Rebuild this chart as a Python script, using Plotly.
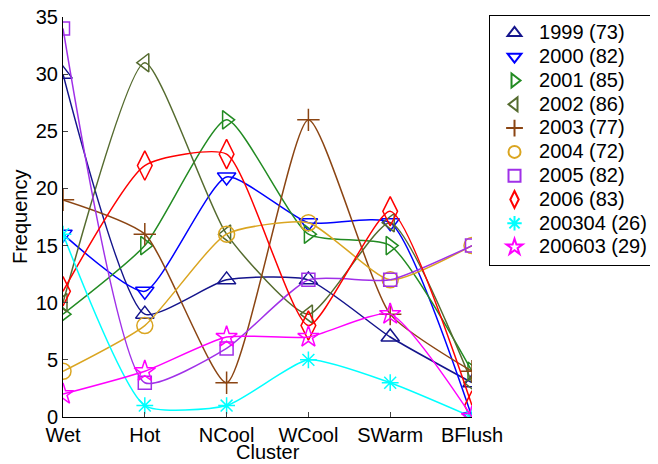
import plotly.graph_objects as go

categories = ["Wet", "Hot", "NCool", "WCool", "SWarm", "BFlush"]
series_names = ["1999", "2000", "2001", "2002", "2003", "2004", "2005", "2006", "200304", "200603"]
v1999 = [30, 9, 12, 12, 7, 3]
v2000 = [16, 11, 21, 17, 17, 0]
v2001 = [9, 15, 26, 16, 15, 4]
v2002 = [10, 31, 16, 9, 17, 3]
v2003 = [19, 16, 3, 26, 9, 4]
v2004 = [4, 8, 16, 17, 12, 15]
v2005 = [34, 3, 6, 12, 12, 15]
v2006 = [11, 22, 23, 8, 18, 1]
v200304 = [16, 1, 1, 5, 3, 0]
v200603 = [2, 4, 7, 7, 9, 0]
y_ticks = [0, 5, 10, 15, 20, 25, 30, 35]

values = [v1999, v2000, v2001, v2002, v2003, v2004, v2005, v2006, v200304, v200603]
colors = ["#14148c", "#0000ff", "#228b22", "#556b2f", "#8b4513", "#daa520",
          "#a030e8", "#ff0000", "#00ffff", "#ff00ff"]
symbols = ["triangle-up-open", "triangle-down-open", "triangle-right-open",
           "triangle-left-open", "cross-thin-open", "circle-open", "square-open",
           "diamond-tall-open", "asterisk-open", "star-open"]
sizes = [16, 16, 16, 16, 16, 16, 13, 21, 14, 16]

fam = "Liberation Sans, Arial, sans-serif"
font = dict(family=fam, size=20, color="black")

xs = list(range(len(categories)))
fig = go.Figure()
for name, vals, col, sym, sz in zip(series_names, values, colors, symbols, sizes):
    fig.add_trace(go.Scatter(x=xs, y=vals, mode="lines", line=dict(color=col, width=1.5,
                                                                  shape="spline", smoothing=0.55),
                             showlegend=False, hoverinfo="skip"))
    label = f"{name} ({sum(vals)})"
    fig.add_trace(go.Scatter(x=xs, y=vals, mode="markers",
                             marker=dict(symbol=sym, size=sz, color=col,
                                         line=dict(color=col, width=1.5)),
                             name=f'<span style="font-size:20px">{label}</span>'))

# The page body has an 8px margin; the figure is sized so the plot lands where the reference has it.
fig.update_layout(
    width=650, height=456,
    margin=dict(l=55, r=186, t=9, b=47, pad=0, autoexpand=False),
    paper_bgcolor="white", plot_bgcolor="white",
    font=font,
    showlegend=True,
    legend=dict(x=1.0416, y=1.005, xanchor="left", yanchor="top",
                bordercolor="black", borderwidth=1, bgcolor="white",
                font=dict(family=fam, size=16, color="black"),
                itemwidth=39, itemsizing="constant", tracegroupgap=0,
                maxheight=320),
    annotations=[
        dict(text="Cluster", x=0.5, y=-0.0875, xref="paper", yref="paper",
             xanchor="center", yanchor="middle", showarrow=False, font=font),
        dict(text="Frequency", x=-0.105, y=0.5, xref="paper", yref="paper", textangle=-90,
             xanchor="center", yanchor="middle", showarrow=False, font=font),
    ],
)
fig.update_xaxes(range=[0, 5], tickvals=xs, ticktext=categories, ticks="inside", ticklen=5,
                 showline=True, linecolor="black", linewidth=1, showgrid=False, zeroline=False,
                 tickfont=font, automargin=False, ticklabeloverflow="allow")
fig.update_yaxes(range=[0, 35], tickvals=y_ticks, ticks="inside", ticklen=5,
                 showline=True, linecolor="black", linewidth=1, showgrid=False, zeroline=False,
                 tickfont=font, automargin=False, ticklabeloverflow="allow")

fig.write_html("out.html")
